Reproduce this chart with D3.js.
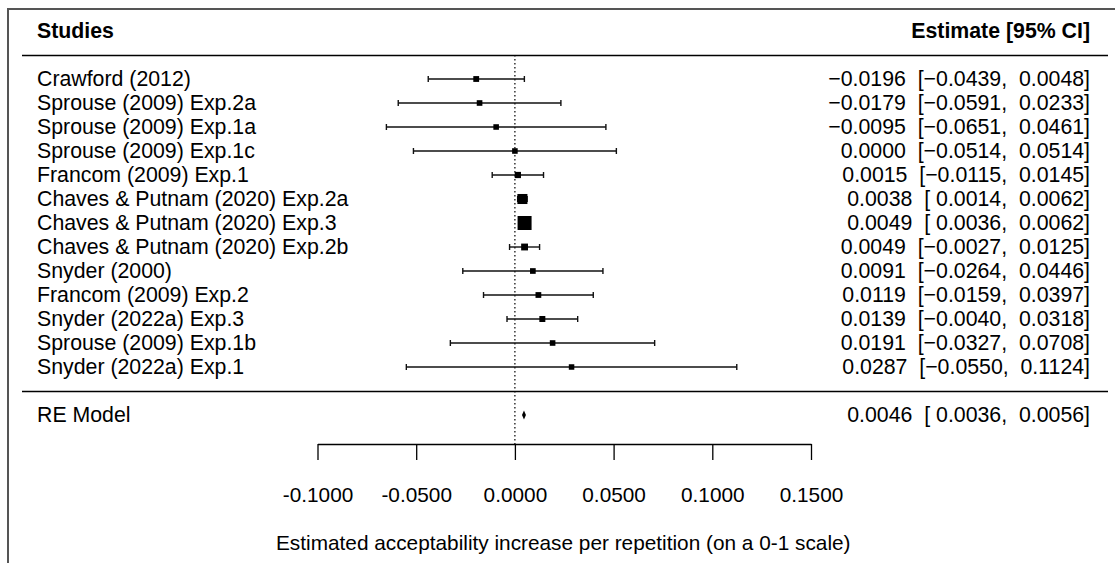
<!DOCTYPE html>
<html>
<head>
<meta charset="utf-8">
<script src="https://cdn.jsdelivr.net/npm/d3@7"></script>
<style>
  body { margin: 0; background: #fff; }
  svg text { font-family: "Liberation Sans", Arial, sans-serif; white-space: pre; }
</style>
</head>
<body>
<div id="chart"></div>
<script>
// studies, top to bottom
const studies = [
    "Crawford (2012)",
    "Sprouse (2009) Exp.2a",
    "Sprouse (2009) Exp.1a",
    "Sprouse (2009) Exp.1c",
    "Francom (2009) Exp.1",
    "Chaves & Putnam (2020) Exp.2a",
    "Chaves & Putnam (2020) Exp.3",
    "Chaves & Putnam (2020) Exp.2b",
    "Snyder (2000)",
    "Francom (2009) Exp.2",
    "Snyder (2022a) Exp.3",
    "Sprouse (2009) Exp.1b",
    "Snyder (2022a) Exp.1"
];
const estimates = [-0.0196, -0.0179, -0.0095, 0.0000, 0.0015, 0.0038, 0.0049, 0.0049, 0.0091, 0.0119, 0.0139, 0.0191, 0.0287];
const ciLower  = [-0.0439, -0.0591, -0.0651, -0.0514, -0.0115, 0.0014, 0.0036, -0.0027, -0.0264, -0.0159, -0.0040, -0.0327, -0.0550];
const ciUpper  = [0.0048, 0.0233, 0.0461, 0.0514, 0.0145, 0.0062, 0.0062, 0.0125, 0.0446, 0.0397, 0.0318, 0.0708, 0.1124];

const reModel = { label: "RE Model", est: 0.0046, lo: 0.0036, hi: 0.0056 };

const xTicks = [-0.10, -0.05, 0.00, 0.05, 0.10, 0.15];
const xTitle = "Estimated acceptability increase per repetition (on a 0-1 scale)";

const W = 1115, H = 563;
const fs = 21.3;

const svg = d3.select("#chart").append("svg")
    .attr("width", W)
    .attr("height", H);

const x = d3.scaleLinear().domain([-0.1, 0.15]).range([317.5, 811]);
// row index -> y (row -2 header, -1 header rule, 13 separator, 14 RE model)
const y = d3.scaleLinear().domain([0, 12]).range([79, 367]);

// point size from precision (1/se) of each study
const prec = ciLower.map((lo, i) => 3.92 / (ciUpper[i] - lo));
const size = d3.scaleLinear().domain(d3.extent(prec)).range([5.5, 14]);

// R style: negative gets a minus, positive a padding space
function fmt(v) {
    return (v < 0 ? "\u2212" : " ") + Math.abs(v).toFixed(4);
}
function annot(e, lo, hi) {
    return fmt(e).trim() + "  [" + fmt(lo) + ",  " + fmt(hi).trim() + "]";
}

// frame (cropped on right and bottom)
svg.append("path")
    .attr("d", `M8,${H + 2}V9H${W + 2}`)
    .attr("fill", "none")
    .attr("stroke", "#555")
    .attr("stroke-width", 2);

// headers
svg.append("text").attr("x", 37).attr("y", y(-2)).attr("dy", "0.35em")
    .attr("font-size", fs).attr("font-weight", "bold").text("Studies");
svg.append("text").attr("x", 1090).attr("y", y(-2)).attr("dy", "0.35em")
    .attr("font-size", fs).attr("font-weight", "bold").attr("text-anchor", "end")
    .text("Estimate [95% CI]");

// horizontal rules
[-1, 13].forEach(r => {
    svg.append("line")
        .attr("x1", 22).attr("x2", 1108)
        .attr("y1", y(r) + 0.5).attr("y2", y(r) + 0.5)
        .attr("stroke", "#000").attr("stroke-width", 1.3);
});

// reference line at zero
svg.append("line")
    .attr("x1", x(0)).attr("x2", x(0))
    .attr("y1", y(-1)).attr("y2", 444)
    .attr("stroke", "#000")
    .attr("stroke-width", 1.2)
    .attr("stroke-dasharray", "1.5,2.5");

const rows = svg.append("g")
    .selectAll("g")
    .data(studies)
    .join("g");

rows.append("text")
    .attr("x", 37)
    .attr("y", (d, i) => y(i))
    .attr("dy", "0.35em")
    .attr("font-size", fs)
    .text(d => d);

rows.append("line")
    .attr("x1", (d, i) => x(ciLower[i]))
    .attr("x2", (d, i) => x(ciUpper[i]))
    .attr("y1", (d, i) => y(i))
    .attr("y2", (d, i) => y(i))
    .attr("stroke", "#111")
    .attr("stroke-width", 1.4);

[ciLower, ciUpper].forEach(arr => {
    rows.append("line")
        .attr("x1", (d, i) => x(arr[i]))
        .attr("x2", (d, i) => x(arr[i]))
        .attr("y1", (d, i) => y(i) - 3)
        .attr("y2", (d, i) => y(i) + 3)
        .attr("stroke", "#111")
        .attr("stroke-width", 1.4);
});

rows.append("rect")
    .attr("x", (d, i) => x(estimates[i]) - size(prec[i]) / 2)
    .attr("y", (d, i) => y(i) - size(prec[i]) / 2)
    .attr("width", (d, i) => size(prec[i]))
    .attr("height", (d, i) => size(prec[i]))
    .attr("fill", "#000");

rows.append("text")
    .attr("x", 1090)
    .attr("y", (d, i) => y(i))
    .attr("dy", "0.35em")
    .attr("font-size", fs)
    .attr("text-anchor", "end")
    .text((d, i) => annot(estimates[i], ciLower[i], ciUpper[i]));

// RE model
svg.append("text").attr("x", 37).attr("y", y(14)).attr("dy", "0.35em")
    .attr("font-size", fs).text(reModel.label);
svg.append("path")
    .attr("d", `M${x(reModel.lo)},${y(14)}L${x(reModel.est)},${y(14) - 4.5}L${x(reModel.hi)},${y(14)}L${x(reModel.est)},${y(14) + 4.5}Z`)
    .attr("fill", "#000");
svg.append("text").attr("x", 1090).attr("y", y(14)).attr("dy", "0.35em")
    .attr("font-size", fs).attr("text-anchor", "end")
    .text(annot(reModel.est, reModel.lo, reModel.hi));

// x axis
const axis = svg.append("g")
    .attr("transform", "translate(0,444)")
    .call(d3.axisBottom(x)
        .tickValues(xTicks)
        .tickFormat(d3.format(".4f"))
        .tickSize(16)
        .tickPadding(27)
        .tickSizeOuter(0));
axis.select(".domain").attr("stroke", "#000").attr("stroke-width", 1.3);
axis.selectAll(".tick line").attr("stroke", "#000").attr("stroke-width", 1.3);
axis.selectAll(".tick text")
    .attr("font-size", fs - 0.5)
    .attr("font-family", "Liberation Sans, Arial, sans-serif")
    .attr("fill", "#000")
    .text(d => d3.format(".4f")(d).replace("\u2212", "-"));

svg.append("text")
    .attr("x", x(0.025) - 1)
    .attr("y", 543)
    .attr("dy", "0.35em")
    .attr("font-size", fs - 0.5)
    .attr("text-anchor", "middle")
    .text(xTitle);
</script>
</body>
</html>
